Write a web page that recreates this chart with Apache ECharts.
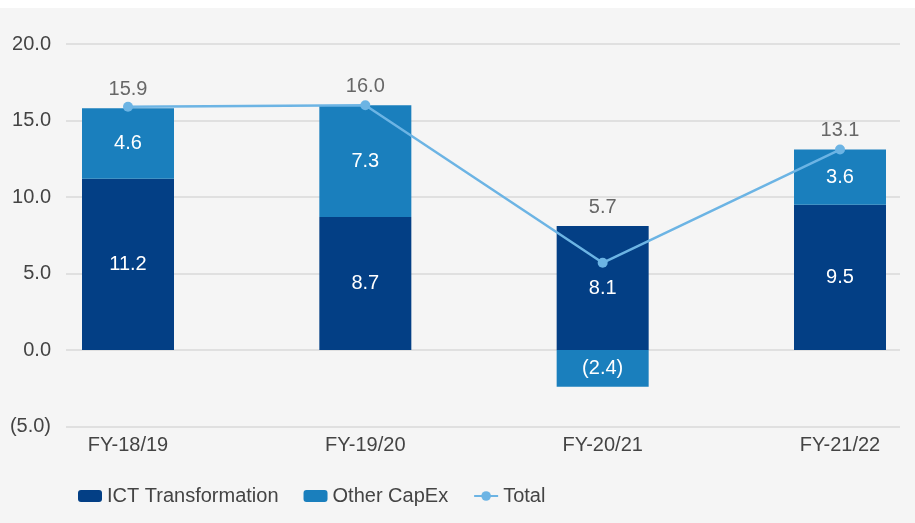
<!DOCTYPE html>
<html lang="en">
<head>
    <meta charset="UTF-8">
    <title>CapEx chart</title>
    <script src="https://cdn.jsdelivr.net/npm/echarts@6/dist/echarts.min.js"></script>
    <style>
        html, body { margin: 0; padding: 0; background: #ffffff; }
        #main { position: absolute; left: 0; top: 8px; width: 915px; height: 515px; }
    </style>
</head>
<body>
    <div id="main"></div>
    <script>
        // data
        var categories = ['FY-18/19', 'FY-19/20', 'FY-20/21', 'FY-21/22'];
        var ictValues = [11.2, 8.7, 8.1, 9.5];
        var otherValues = [4.6, 7.3, -2.4, 3.6];
        var totalValues = [15.9, 16.0, 5.7, 13.1];
        var yTicks = [-5, 0, 5, 10, 15, 20];

        var font = 'Liberation Sans, Arial, sans-serif';
        var textColor = '#444444';

        function fmt(v) {
            return v < 0 ? '(' + Math.abs(v).toFixed(1) + ')' : v.toFixed(1);
        }

        // top of the positive stack, used to place the total labels
        var stackTops = ictValues.map(function (v, i) {
            return Math.max(v, 0) + Math.max(otherValues[i], 0);
        });

        var chart = echarts.init(document.getElementById('main'));

        var option = {
            backgroundColor: '#f5f5f5',
            animation: false,
            textStyle: { fontFamily: font },
            legend: {
                data: ['ICT Transformation', 'Other CapEx', 'Total'],
                left: 73,
                top: 473,
                itemWidth: 24,
                itemHeight: 12,
                itemGap: 25,
                textStyle: { fontSize: 20, color: textColor, fontFamily: font }
            },
            grid: [
                { left: 66, right: 15, top: 36, bottom: 96.5 },
                { left: 128, right: 75, top: 36, bottom: 96.5 }
            ],
            xAxis: [
                { type: 'category', gridIndex: 0, data: categories, show: false },
                {
                    type: 'category', gridIndex: 1, data: categories, boundaryGap: false,
                    axisLine: { show: false }, axisTick: { show: false },
                    axisLabel: { margin: 9, fontSize: 20, color: textColor, fontFamily: font }
                }
            ],
            yAxis: [
                {
                    type: 'value', gridIndex: 0,
                    min: yTicks[0], max: yTicks[yTicks.length - 1], interval: 5,
                    axisLine: { show: false }, axisTick: { show: false },
                    axisLabel: { margin: 15, fontSize: 20, color: textColor, fontFamily: font, formatter: fmt },
                    splitLine: { lineStyle: { color: '#d9d9d9', width: 1.5 } }
                },
                {
                    type: 'value', gridIndex: 1,
                    min: yTicks[0], max: yTicks[yTicks.length - 1], interval: 5,
                    show: false, splitLine: { show: false }
                }
            ],
            series: [
                {
                    name: 'ICT Transformation', type: 'bar', stack: 'capex',
                    xAxisIndex: 1, yAxisIndex: 1, barWidth: 92,
                    itemStyle: { color: '#033f85' },
                    label: {
                        show: true, position: 'inside', color: '#ffffff', fontSize: 20,
                        fontFamily: font, formatter: function (p) { return fmt(p.value); }
                    },
                    data: ictValues
                },
                {
                    name: 'Other CapEx', type: 'bar', stack: 'capex',
                    xAxisIndex: 1, yAxisIndex: 1, barWidth: 92,
                    itemStyle: { color: '#1a7fbd' },
                    label: {
                        show: true, position: 'inside', color: '#ffffff', fontSize: 20,
                        fontFamily: font, formatter: function (p) { return fmt(p.value); }
                    },
                    data: otherValues
                },
                {
                    name: 'Total', type: 'line',
                    xAxisIndex: 1, yAxisIndex: 1,
                    symbol: 'circle', symbolSize: 10,
                    lineStyle: { color: '#6cb4e4', width: 2.5 },
                    itemStyle: { color: '#6cb4e4' },
                    z: 5,
                    data: totalValues
                },
                {
                    // invisible carrier for the total labels, sits on top of each stack
                    name: 'totalLabels', type: 'scatter',
                    xAxisIndex: 1, yAxisIndex: 1,
                    symbolSize: 0, silent: true,
                    label: {
                        show: true, position: 'top', distance: 9, color: textColor,
                        fontSize: 20, fontFamily: font,
                        formatter: function (p) { return fmt(totalValues[p.dataIndex]); }
                    },
                    data: stackTops
                }
            ]
        };

        chart.setOption(option);
    </script>
</body>
</html>
